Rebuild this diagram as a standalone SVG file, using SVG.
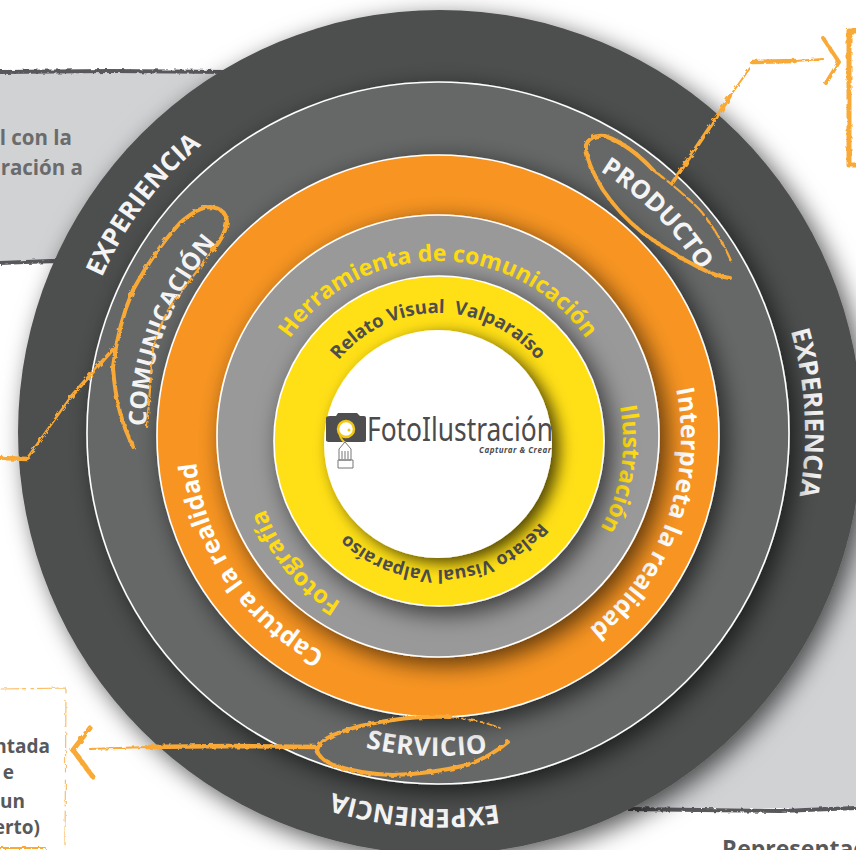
<svg xmlns="http://www.w3.org/2000/svg" width="856" height="850" viewBox="0 0 856 850">
<style>
text{font-family:"Open Sans","Noto Sans","Liberation Sans",sans-serif;font-weight:700}
.w{fill:#f4f4f4}.o{fill:#fff}.y{fill:#ffdc12}.k{fill:#4d4d4f}.p{fill:#6a6b6d}.q{fill:#58595b}
.ring{stroke:#fff;stroke-width:1.6;filter:url(#sh)}
.s{fill:none;stroke:#f9a936;stroke-linecap:round;stroke-linejoin:round;filter:url(#rough)}
.b{fill:none;stroke:#58595b;filter:url(#rough)}
</style>
<defs>
<filter id="sh" x="-15%" y="-15%" width="135%" height="135%"><feDropShadow dx="7" dy="7" stdDeviation="12" flood-color="#000" flood-opacity=".65"/></filter>
<filter id="sh2" x="-20%" y="-20%" width="145%" height="145%"><feDropShadow dx="7" dy="5" stdDeviation="8" flood-color="#000" flood-opacity=".7"/></filter>
<filter id="rough" x="-20%" y="-20%" width="140%" height="140%" filterUnits="userSpaceOnUse" primitiveUnits="userSpaceOnUse"><feTurbulence type="fractalNoise" baseFrequency=".22" numOctaves="2" seed="4"/><feDisplacementMap in="SourceGraphic" scale="3.5"/></filter>
<path id="r363" d="M440 795A363 363 0 1 1 440 69A363 363 0 1 1 440 795"/>
<path id="r292" d="M438 725A292 292 0 1 1 438 141A292 292 0 1 1 438 725"/>
<path id="r308" d="M438 741A308 308 0 1 1 438 125A308 308 0 1 1 438 741"/>
<path id="r323" d="M438 110A323 323 0 1 0 438 756A323 323 0 1 0 438 110"/>
<path id="r243" d="M438 681A243 243 0 1 1 438 195A243 243 0 1 1 438 681"/>
<path id="r180" d="M438 621A180 180 0 1 1 438 261A180 180 0 1 1 438 621"/>
<path id="r128" d="M438 569A128 128 0 1 1 438 313A128 128 0 1 1 438 569"/>
<path id="r133" d="M438 574A133 133 0 1 1 438 308A133 133 0 1 1 438 574"/>
</defs>
<rect width="856" height="850" fill="#fff"/>
<g id="panel-left">
<rect x="0" y="72" width="240" height="192" fill="#d1d2d4"/>
<path class="b" stroke-width="4" d="M0 72L110 71L230 72"/>
<path class="b" stroke-width="4" d="M0 263L50 261L70 261"/>
<text class="p" x="72" y="145" font-size="20.5" text-anchor="end">l con la</text>
<text class="p" x="83" y="175" font-size="20.5" text-anchor="end">ración a</text>
</g>
<g id="panel-right">
<rect x="625" y="430" width="231" height="378" fill="#d1d2d4"/>
<path class="b" stroke-width="4" d="M628 809L700 810L780 811L856 808"/>
<text class="q" x="722" y="857" font-size="23">Representac</text>
</g>
<g id="box-top-right"><path class="s" stroke-width="5" d="M862 31L849 31L849 165L862 165"/></g>
<g id="box-bottom-left">
<path class="s" stroke-width="1.2" opacity=".75" stroke-dasharray="26 5 40 8" d="M0 689L66 688L65 845"/>
<path class="s" stroke-width="2" d="M0 848L45 848"/>
<text class="q" x="50" y="753" font-size="19" text-anchor="end">ntada</text>
<text class="q" x="14" y="779" font-size="19" text-anchor="end">e</text>
<text class="q" x="25" y="808" font-size="19" text-anchor="end">un</text>
<text class="q" x="40" y="834" font-size="19" text-anchor="end">erto)</text>
</g>
<g id="ring-experiencia">
<circle cx="440" cy="432" r="422" fill="#4e504f" filter="url(#sh)"/>
<text class="w" font-size="26" text-anchor="middle" transform="translate(-6 -8) rotate(-53 440 432)"><textPath href="#r363" startOffset="50%">EXPERIENCIA</textPath></text>
<text class="w" font-size="26" text-anchor="middle" transform="translate(2 0) rotate(87 440 432)"><textPath href="#r363" startOffset="50%">EXPERIENCIA</textPath></text>
<text class="w" font-size="26" text-anchor="middle" transform="translate(0 14) rotate(184 440 432)"><textPath href="#r363" startOffset="50%">EXPERIENCIA</textPath></text>
</g>
<g id="ring-producto-servicio">
<circle class="ring" cx="438" cy="433" r="351" fill="#666768"/>
<text class="w" font-size="24.5" text-anchor="middle" transform="rotate(-69 438 433)"><textPath href="#r292" startOffset="50%">COMUNICACIÓN</textPath></text>
<text class="w" font-size="25.5" text-anchor="middle" transform="rotate(45 438 433)"><textPath href="#r308" startOffset="50%">PRODUCTO</textPath></text>
<text class="w" font-size="26" letter-spacing=".8" text-anchor="middle" transform="rotate(2 438 433)"><textPath href="#r323" startOffset="50%">SERVICIO</textPath></text>
</g>
<g id="ring-orange">
<circle class="ring" cx="438" cy="436" r="281" fill="#f89521"/>
<text class="o" font-size="25" text-anchor="middle" transform="rotate(-124 438 438)"><textPath href="#r243" startOffset="50%">Captura la realidad</textPath></text>
<text class="o" font-size="25" text-anchor="middle" transform="rotate(110 438 438)"><textPath href="#r243" startOffset="50%">Interpreta la realidad</textPath></text>
</g>
<g id="ring-gray">
<circle class="ring" cx="438" cy="436" r="221" fill="#99999a"/>
<text class="y" font-size="23" text-anchor="middle" transform="rotate(0 438 441)"><textPath href="#r180" startOffset="50%">Herramienta de comunicación</textPath></text>
<text class="y" font-size="23.5" text-anchor="middle" transform="translate(5 0) rotate(99 438 441)"><textPath href="#r180" startOffset="50%">Ilustración</textPath></text>
<text class="y" font-size="24" text-anchor="middle" transform="translate(-3 8) rotate(-129 438 441)"><textPath href="#r180" startOffset="50%">Fotografía</textPath></text>
</g>
<g id="ring-yellow">
<circle class="ring" cx="439" cy="441" r="165" fill="#ffdf12"/>
<text class="k" font-size="18.5" text-anchor="middle" xml:space="preserve"><textPath href="#r128" startOffset="50%">Relato Visual  Valparaíso</textPath></text>
<text class="k" font-size="18" text-anchor="middle" transform="translate(0 -4) rotate(176.5 438 441)"><textPath href="#r133" startOffset="50%">Relato Visual Valparaíso</textPath></text>
</g>
<g id="logo">
<circle cx="438" cy="444" r="114" fill="#fff" filter="url(#sh2)"/>
<path d="M330 416h6l2-3h19l3 3h4q2 0 2 2v22q0 2-2 2h-34q-4 0-4-2v-22q0-2 4-2z" fill="#4e4e50"/>
<circle cx="346" cy="429" r="8" fill="#fff" stroke="#f2c811" stroke-width="2.5"/>
<circle cx="349" cy="430" r="1.5" fill="#f2c811"/>
<path d="M339 432Q341 441 346 443" fill="none" stroke="#f2c811" stroke-width="2"/>
<path d="M345 442L339 449V460H351V449ZM338 460H353V468H338Z" fill="#fff" stroke="#77777a"/>
<path d="M342 451V459M345 451V459M348 451V459" stroke="#77777a" fill="none"/>
<text x="367" y="441" font-size="33" fill="#4b4b4d" style="font-weight:400;font-family:'Noto Sans',sans-serif" textLength="186" lengthAdjust="spacingAndGlyphs">FotoIlustración</text>
<text x="479" y="453" font-size="8" fill="#4b4b4d" font-style="italic" letter-spacing="1" textLength="73">Capturar &amp; Crear</text>
</g>
<g id="connectors">
<path class="s" stroke-width="4" d="M730 278Q715 276 700 268Q670 253 643 233Q620 215 603 190Q585 160 586 145Q590 134 605 136Q630 145 653 170"/>
<path class="s" stroke-width="2.2" stroke-dasharray="14 4 6 3" d="M653 170Q680 190 700 210Q720 235 732 263"/>
<path class="s" stroke-width="4" d="M673 182L720 112L730 96"/>
<path class="s" stroke-width="2" d="M730 96L750 68"/>
<path class="s" stroke-width="4.5" d="M752 62L795 61"/>
<path class="s" stroke-width="2.2" d="M795 61L823 59"/>
<path class="s" stroke-width="4" d="M823 38L839 62L826 83"/>
<path class="s" stroke-width="4" d="M134 448Q116 415 113 367Q118 325 133 290Q155 250 180 223Q198 207 210 207Q226 208 227 222Q225 236 213 250"/>
<path class="s" stroke-width="2.2" stroke-dasharray="10 4 5 3" d="M213 250Q190 280 170 307Q155 335 153 350Q150 390 147 427"/>
<path class="s" stroke-width="3.5" d="M115 347L70 398"/>
<path class="s" stroke-width="2.2" d="M70 398L28 457"/>
<path class="s" stroke-width="4.5" d="M0 458L28 459"/>
<path class="s" stroke-width="4" d="M508 742Q490 757 467 765Q430 774 393 775Q360 774 333 765Q318 758 317 750Q320 741 333 735Q360 724 393 720Q420 716 450 717"/>
<path class="s" stroke-width="1.8" stroke-dasharray="8 4 3 4" d="M450 717Q480 720 500 728"/>
<path class="s" stroke-width="4.5" d="M315 747L230 746L147 747"/>
<path class="s" stroke-width="2.2" d="M147 747L90 749"/>
<path class="s" stroke-width="5" d="M90 728L73 750L93 777"/>
</g>
</svg>
